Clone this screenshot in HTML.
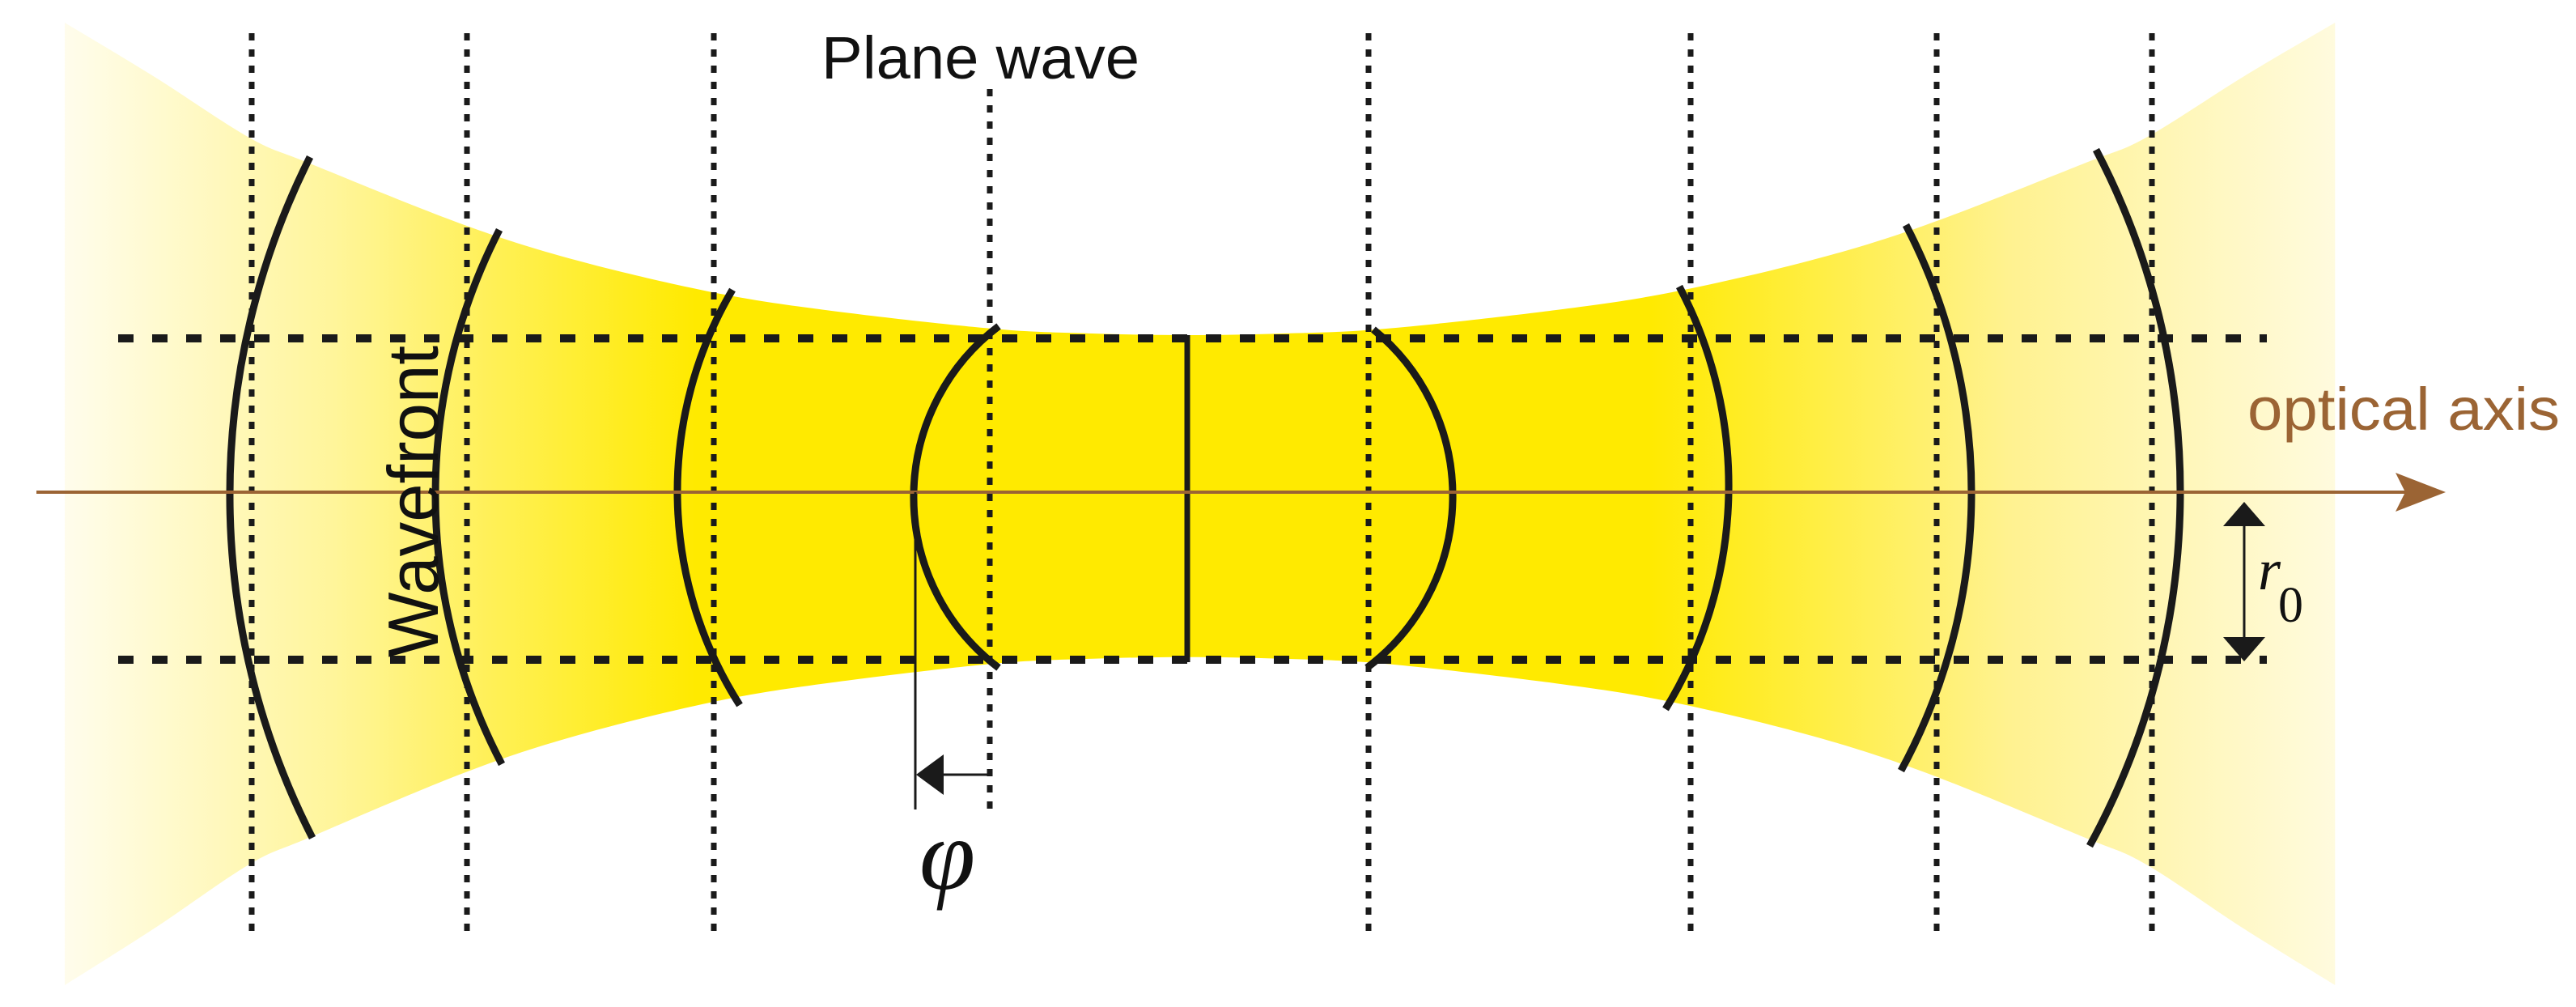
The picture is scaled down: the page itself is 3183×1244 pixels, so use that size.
<!DOCTYPE html>
<html><head><meta charset="utf-8"><style>
html,body{margin:0;padding:0;background:#fff}
svg{display:block}
</style></head><body>
<svg id="s" width="3183" height="1244" viewBox="0 0 3183 1244" xmlns="http://www.w3.org/2000/svg">
<defs>
<linearGradient id="g" x1="0" y1="0" x2="3183" y2="0" gradientUnits="userSpaceOnUse">
<stop offset="0.02" stop-color="#fffdf0"/>
<stop offset="0.13" stop-color="#fff59a"/>
<stop offset="0.27" stop-color="#ffea00"/>
<stop offset="0.64" stop-color="#ffea00"/>
<stop offset="0.78" stop-color="#fff290"/>
<stop offset="0.91" stop-color="#fffbe0"/>
</linearGradient>
</defs>
<path id="beam" fill="url(#g)" d=""/>
<g id="dots" stroke="#1a1a1a" stroke-width="7" stroke-dasharray="9 11" fill="none"></g>
<g stroke="#1a1a1a" stroke-width="10" stroke-dasharray="19 23" fill="none">
<line x1="146" y1="418" x2="2801" y2="418"/>
<line x1="146" y1="815" x2="2801" y2="815"/>
</g>
<g id="arcs" stroke="#1a1a1a" stroke-width="9" fill="none"></g>
<line x1="1467" y1="414" x2="1467" y2="818" stroke="#1a1a1a" stroke-width="7"/>
<line x1="45" y1="608" x2="2990" y2="608" stroke="#9b6434" stroke-width="4"/>
<path d="M3022 608 L2960 584 L2972 608 L2960 632 Z" fill="#9b6434"/>
<line x1="1131" y1="608" x2="1131" y2="1000" stroke="#1a1a1a" stroke-width="3"/>
<line x1="1160" y1="957" x2="1222" y2="957" stroke="#1a1a1a" stroke-width="3"/>
<path d="M1132 957 L1166 932 L1166 982 Z" fill="#1a1a1a"/>
<line x1="2773" y1="650" x2="2773" y2="790" stroke="#1a1a1a" stroke-width="3"/>
<path d="M2773 620 L2747 650 L2799 650 Z" fill="#1a1a1a"/>
<path d="M2773 817 L2747 787 L2799 787 Z" fill="#1a1a1a"/>
<text x="1015" y="97" font-family="Liberation Sans, sans-serif" font-size="74" textLength="393" lengthAdjust="spacingAndGlyphs" fill="#111">Plane wave</text>
<text x="2777" y="531" font-family="Liberation Sans, sans-serif" font-size="74" textLength="386" lengthAdjust="spacingAndGlyphs" fill="#9b6434">optical axis</text>
<text transform="translate(541,812) rotate(-90)" font-family="Liberation Sans, sans-serif" font-size="88" textLength="385" lengthAdjust="spacingAndGlyphs" fill="#111">Wavefront</text>
<text x="1136" y="1098" font-family="Liberation Serif, serif" font-style="italic" font-size="125" fill="#111">φ</text>
<text x="2790" y="728" font-family="Liberation Serif, serif" font-style="italic" font-size="72" fill="#111">r</text>
<text x="2815" y="768" font-family="Liberation Serif, serif" font-size="62" fill="#111">0</text>
</svg>
<script>
(function(){
var NS="http://www.w3.org/2000/svg";
function cr(p){var d="M"+p[0][0]+" "+p[0][1];for(var i=0;i<p.length-1;i++){var a=p[i-1]||p[i],b=p[i],c=p[i+1],e=p[i+2]||c;d+=" C"+(b[0]+(c[0]-a[0])/6)+" "+(b[1]+(c[1]-a[1])/6)+" "+(c[0]-(e[0]-b[0])/6)+" "+(c[1]-(e[1]-b[1])/6)+" "+c[0]+" "+c[1];}return d;}
var L=[[80,28],[191,95],[308,170],[383,202],[574,278],[714,322],[880,361],[1020,383],[1225,406],[1350,412],[1466,414]];
var tp=L.slice();
for(var i=L.length-2;i>=0;i--){tp.push([1466+(1466-L[i][0])*1.024,L[i][1]]);}
var bt=tp.slice().reverse().map(function(p){return [p[0],608+(608-p[1])*1.05];});
var d=cr(tp)+" L"+bt[0][0]+" "+bt[0][1]+cr(bt).replace(/^M[^C]*/," ")+" Z";
document.getElementById("beam").setAttribute("d",d);
var dg=document.getElementById("dots");
[[311,41,1150],[577,41,1150],[882,41,1150],[1223,110,1000],[1691,41,1150],[2089,41,1150],[2393,41,1150],[2659,41,1150]].forEach(function(v){var l=document.createElementNS(NS,"line");l.setAttribute("x1",v[0]);l.setAttribute("x2",v[0]);l.setAttribute("y1",v[1]);l.setAttribute("y2",v[2]);dg.appendChild(l);});
var ag=document.getElementById("arcs");
[[[383,194],[284,608],[386,1035]],[[617,284],[538,608],[620,944]],[[905,358],[837,608],[914,871]],[[1234,403],[1129,608],[1234,825]],
[[1697,407],[1795,608],[1689,825]],[[2075,354],[2136,608],[2058,876]],[[2355,278],[2436,608],[2349,952]],[[2590,185],[2694,608],[2582,1045]]].forEach(function(a){
var ax=a[0][0],ay=a[0][1],bx=a[1][0],by=a[1][1],cx=a[2][0],cy=a[2][1];
var D=2*(ax*(by-cy)+bx*(cy-ay)+cx*(ay-by));
var ux=((ax*ax+ay*ay)*(by-cy)+(bx*bx+by*by)*(cy-ay)+(cx*cx+cy*cy)*(ay-by))/D;
var uy=((ax*ax+ay*ay)*(cx-bx)+(bx*bx+by*by)*(ax-cx)+(cx*cx+cy*cy)*(bx-ax))/D;
var r=Math.hypot(ax-ux,ay-uy);
var sweep=(bx<ax)?0:1;
var p=document.createElementNS(NS,"path");p.setAttribute("d","M"+ax+" "+ay+" A"+r+" "+r+" 0 0 "+sweep+" "+cx+" "+cy);ag.appendChild(p);});
})();
</script>
</body></html>
